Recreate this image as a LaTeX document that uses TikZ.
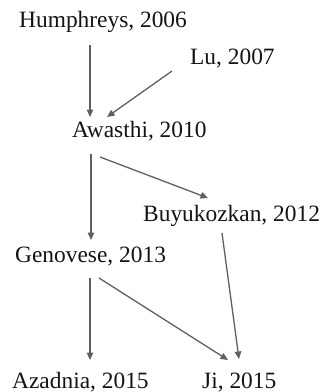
\documentclass[tikz,border=0pt]{standalone}
\usepackage{fontspec}
\setmainfont{Liberation Serif}
\usetikzlibrary{arrows.meta}
\definecolor{linkgray}{RGB}{95,95,95}
\begin{document}
\begin{tikzpicture}[x=1pt,y=-1pt,
  ref/.style={anchor=base west,inner sep=0pt,font=\fontsize{23.4}{28}\selectfont,text=black!92},
  link/.style={draw=linkgray,line width=1.3pt,-{Triangle[length=7.5pt,width=6.5pt]}}]
\useasboundingbox (0,0) rectangle (321,392);
% papers, placed by the left end of their baseline
\node[ref] (hum) at (19,27)  {Humphreys, 2006};
\node[ref] (lu)  at (190,64) {Lu, 2007};
\node[ref] (awa) at (72,137) {Awasthi, 2010};
\node[ref] (buy) at (143,221) {Buyukozkan, 2012};
\node[ref] (gen) at (15,262) {Genovese, 2013};
\node[ref] (aza) at (12,388) {Azadnia, 2015};
\node[ref] (ji)  at (202,388) {Ji, 2015};
% citation links
\draw[link] ([shift={(71,18)}]hum.base west) -- ([shift={(18,-20)}]awa.base west);
\draw[link] ([shift={(-18,7)}]lu.base west) -- ([shift={(35,-20)}]awa.base west);
\draw[link] ([shift={(19,17)}]awa.base west) -- ([shift={(76,-22)}]gen.base west);
\draw[link] ([shift={(28,20)}]awa.base west) -- ([shift={(65,-23)}]buy.base west);
\draw[link] ([shift={(79,12)}]buy.base west) -- ([shift={(37,-29)}]ji.base west);
\draw[link] ([shift={(75,16)}]gen.base west) -- ([shift={(78,-28)}]aza.base west);
\draw[link] ([shift={(84,16)}]gen.base west) -- ([shift={(26,-28)}]ji.base west);
\end{tikzpicture}
\end{document}
